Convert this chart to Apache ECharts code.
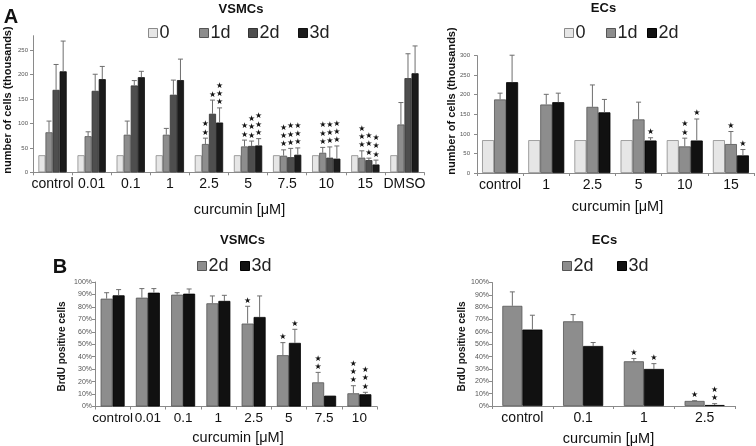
<!DOCTYPE html>
<html><head><meta charset="utf-8">
<script src="https://cdn.jsdelivr.net/npm/echarts@6/dist/echarts.min.js"></script>
<style>html,body{margin:0;padding:0;background:#fff}#c{width:756px;height:446px}</style>
</head><body><div id="c"></div>
<script>
// ---- Panel A, VSMCs (number of cells, thousands) ----
const catsAV = ['control','0.01','0.1','1','2.5','5','7.5','10','15','DMSO'];
const av0 = [35,35,35,35,35,35,35,35,35,35];
const av1 = [82,74,77,77,58,53,34,40,30,98];
const av2 = [169,167,178,159,120,54,31,30,25,193];
const av3 = [207,191,195,189,102,55,36,28,16,203];
const av1Err = [23,9,28,13,12,13,12,11,14,45];
const av2Err = [52,34,10,30,28,10,18,22,4,50];
const av3Err = [62,26,12,43,30,14,14,26,9,56];
const av1Stars = [0,0,0,0,2,2,3,3,3,0];
const av2Stars = [0,0,0,0,1,3,3,3,3,0];
const av3Stars = [0,0,0,0,3,3,3,3,3,0];
const avTicks = [0,50,100,150,200,250];

// ---- Panel A, ECs ----
const catsAE = ['control','1','2.5','5','10','15'];
const ae0 = [84,84,84,84,84,84];
const ae1 = [188,175,169,137,68,74];
const ae2 = [232,181,155,83,83,45];
const ae1Err = [16,26,56,44,21,32];
const ae2Err = [69,23,33,7,55,15];
const ae1Stars = [0,0,0,0,2,1];
const ae2Stars = [0,0,0,1,1,1];
const aeTicks = [0,50,100,150,200,250,300];

// ---- Panel B, VSMCs (BrdU positive cells, %) ----
const catsBV = ['control','0.01','0.1','1','2.5','5','7.5','10'];
const bv2 = [86.6,87.4,89.8,82.9,66.6,41.2,19.4,10.6];
const bv3 = [89.3,91.4,90.6,84.8,71.9,51.1,8.7,9.8];
const bv2Err = [4.8,7.3,1.6,5.9,13.9,10.1,8,6.1];
const bv3Err = [4.6,3.3,3.8,4.5,16.9,10.9,0,1.6];
const bv2Stars = [0,0,0,0,1,1,2,3];
const bv3Stars = [0,0,0,0,0,1,0,3];

// ---- Panel B, ECs ----
const catsBE = ['control','0.1','1','2.5'];
const be2 = [81.1,68.6,36.2,4.1];
const be3 = [61.9,48.6,30,0.8];
const be2Err = [11.3,5.4,2.2,0.2];
const be3Err = [11.6,2.8,4.3,1.1];
const be2Stars = [0,0,1,1];
const be3Stars = [0,0,1,2];
const pctTicks = [0,10,20,30,40,50,60,70,80,90,100];

const FONT = 'Liberation Sans, Arial, sans-serif';
const C0 = '#e6e6e6', C1 = '#8d8d8d', C2 = '#4e4e4e', C3 = '#1b1b1b', CK = '#111111';

const chart = echarts.init(document.getElementById('c'), null, {renderer:'canvas'});

function bar(name, data, xi, color, border, gap) {
  return {type:'bar', name, data, xAxisIndex:xi, yAxisIndex:xi, barGap:'0%',
    barCategoryGap: (gap*100)+'%', silent:true,
    itemStyle:{color, borderColor:border, borderWidth:0.8}};
}
function err(vals, errs, stars, xi, si, n, gap) {
  return {type:'custom', xAxisIndex:xi, yAxisIndex:xi, clip:false, z:5, silent:true,
    data: vals.map((v,i)=>[i, v, errs[i], stars[i]]),
    renderItem: function(params, api) {
      const i = api.value(0), v = api.value(1), e = api.value(2), s = api.value(3);
      const band = api.size([1,0])[0];
      const bw = band*(1-gap)/n;
      const p = api.coord([i, v]);
      const x = p[0] + (si-(n-1)/2)*bw;
      const yv = p[1], yt = api.coord([i, v+e])[1];
      const ch = [];
      if (e > 0) {
        ch.push({type:'line', shape:{x1:x,y1:yv,x2:x,y2:yt}, style:{stroke:'#6e6e6e', lineWidth:1}});
        ch.push({type:'line', shape:{x1:x-2.5,y1:yt,x2:x+2.5,y2:yt}, style:{stroke:'#6e6e6e', lineWidth:1}});
      }
      if (s > 0) {
        ch.push({type:'text', x:x, y:yt-1.5, style:{text: new Array(s).fill('★').join('\n'),
          fontSize:8, lineHeight:8.3, fontFamily:'DejaVu Sans', fill:'#111', align:'center', verticalAlign:'bottom'}});
      }
      return {type:'group', children:ch};
    }};
}
function xAx(gi, cats, margin, fs) {
  return {type:'category', gridIndex:gi, data:cats,
    axisLine:{lineStyle:{color:'#8a8a8a', width:1}},
    axisTick:{show:true, length:3, lineStyle:{color:'#8a8a8a'}},
    axisLabel:{fontFamily:FONT, fontSize:fs, color:'#111', margin:margin, interval:0}};
}
function yAx(gi, max, interval, fs, fmt, margin) {
  return {type:'value', gridIndex:gi, min:0, max:max, interval:interval,
    axisLine:{show:true, lineStyle:{color:'#8a8a8a', width:1}},
    axisTick:{show:true, length:3, lineStyle:{color:'#8a8a8a'}},
    splitLine:{show:false},
    axisLabel:{fontFamily:FONT, fontSize:fs, color:'#555', formatter:fmt, margin:margin, showMaxLabel: max%interval===0}};
}
function lg(name, left, top, color, border) {
  return {data:[{name, itemStyle:{color, borderColor:border, borderWidth:1}}], left, top, padding:0,
    itemWidth:9, itemHeight:9, icon:'rect', selectedMode:false,
    textStyle:{fontFamily:FONT, fontSize:18, color:'#222', padding:[0,0,0,-3]}};
}
function txt(text, x, y, size, bold, rot) {
  return {type:'text', x, y, rotation: rot||0, silent:true,
    style:{text, fontFamily:FONT, fontSize:size, fontWeight: bold?'bold':'normal', fill:'#111', align:'center', verticalAlign:'middle'}};
}

const gAV = 0.276, gAE = 0.22, gBV = 0.32, gBE = 0.34;

chart.setOption({
  animation:false,
  grid:[
    {left:33, top:35.7, width:391, height:136.6},
    {left:477, top:55.6, width:277, height:117.4},
    {left:95, top:282, width:282, height:124.5},
    {left:492, top:282.5, width:243, height:123.5}
  ],
  xAxis:[xAx(0,catsAV,5,14), xAx(1,catsAE,5,14), xAx(2,catsBV,5,13.5), xAx(3,catsBE,5,14)],
  yAxis:[
    yAx(0, 280, avTicks[1]-avTicks[0], 6, '{value}', 5),
    yAx(1, aeTicks[aeTicks.length-1], aeTicks[1]-aeTicks[0], 6, '{value}', 7),
    yAx(2, pctTicks[pctTicks.length-1], pctTicks[1]-pctTicks[0], 7, '{value}%', 3),
    yAx(3, pctTicks[pctTicks.length-1], pctTicks[1]-pctTicks[0], 7, '{value}%', 3)
  ],
  legend:[
    lg('0',148,24,C0,'#8a8a8a'), lg('1d',199,24,C1,'#555'), lg('2d',248,24,C2,'#333'), lg('3d',298,24,C3,'#111'),
    lg('0',564,24,C0,'#8a8a8a'), lg('1d',606,24,C1,'#555'), lg('2d',647,24,CK,'#000'),
    lg('2d',197,257,C1,'#555'), lg('3d',240,257,CK,'#000'),
    lg('2d',562,257,C1,'#555'), lg('3d',617,257,CK,'#000')
  ],
  series:[
    bar('0', av0, 0, C0, '#8a8a8a', gAV), bar('1d', av1, 0, C1, '#555', gAV),
    bar('2d', av2, 0, C2, '#333', gAV), bar('3d', av3, 0, C3, '#111', gAV),
    err(av1, av1Err, av1Stars, 0, 1, 4, gAV), err(av2, av2Err, av2Stars, 0, 2, 4, gAV), err(av3, av3Err, av3Stars, 0, 3, 4, gAV),

    bar('0', ae0, 1, C0, '#8a8a8a', gAE), bar('1d', ae1, 1, C1, '#555', gAE), bar('2d', ae2, 1, CK, '#000', gAE),
    err(ae1, ae1Err, ae1Stars, 1, 1, 3, gAE), err(ae2, ae2Err, ae2Stars, 1, 2, 3, gAE),

    bar('2d', bv2, 2, C1, '#555', gBV), bar('3d', bv3, 2, CK, '#000', gBV),
    err(bv2, bv2Err, bv2Stars, 2, 0, 2, gBV), err(bv3, bv3Err, bv3Stars, 2, 1, 2, gBV),

    bar('2d', be2, 3, C1, '#555', gBE), bar('3d', be3, 3, CK, '#000', gBE),
    err(be2, be2Err, be2Stars, 3, 0, 2, gBE), err(be3, be3Err, be3Stars, 3, 1, 2, gBE)
  ],
  graphic:[
    txt('A', 11, 17, 20, true), txt('B', 60, 267, 20, true),
    txt('VSMCs', 241, 9, 13, true), txt('ECs', 603.5, 8, 13, true),
    txt('VSMCs', 242.5, 240, 13, true), txt('ECs', 604.5, 240, 13, true),
    txt('curcumin [μM]', 239.5, 209.5, 14.5, false), txt('curcumin [μM]', 617.5, 207, 14.5, false),
    txt('curcumin [μM]', 238, 437.5, 14.5, false), txt('curcumin [μM]', 608.5, 438.5, 14.5, false),
    txt('number of cells (thousands)', 8, 100, 11, true, Math.PI/2),
    txt('number of cells (thousands)', 451.5, 101, 11, true, Math.PI/2),
    txt('BrdU positive cells', 62, 346.5, 10, true, Math.PI/2),
    txt('BrdU positive cells', 462, 346.5, 10, true, Math.PI/2)
  ]
});
</script></body></html>
